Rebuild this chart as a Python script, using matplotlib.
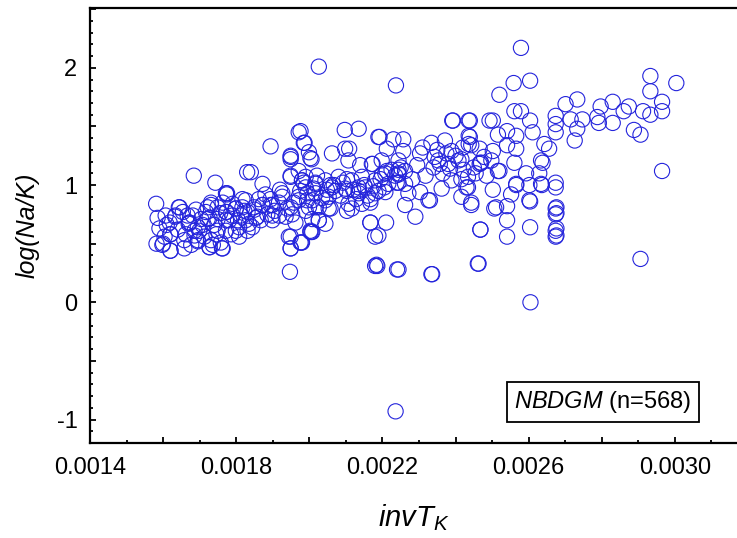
import matplotlib
matplotlib.use("Agg")
import matplotlib.pyplot as plt
from matplotlib.ticker import MultipleLocator, FuncFormatter
import numpy as np

plt.rcParams['font.family'] = ['Liberation Sans', 'DejaVu Sans']
plt.rcParams['mathtext.fontset'] = 'custom'
plt.rcParams['mathtext.rm'] = 'Liberation Sans'
plt.rcParams['mathtext.it'] = 'Liberation Sans:italic'

# inverse temperature (1/K) and log(Na/K)
inv_t = [
    # left cluster
    0.001581, 0.001607, 0.001634, 0.001645, 0.001667, 0.001672, 0.001620, 0.001598,
    0.001620, 0.001658, 0.001677, 0.001695, 0.001686, 0.001699, 0.001722, 0.001731,
    0.001743, 0.001684, 0.001727, 0.001731, 0.001761, 0.001746, 0.001772, 0.001781,
    0.001772, 0.001772, 0.001799, 0.001817, 0.001808, 0.001831, 0.001826, 0.001858,
    0.001840, 0.001872, 0.001872, 0.001894, 0.001899, 0.001926, 0.001949, 0.001949,
    0.001949, 0.001944, 0.001949, 0.001947, 0.001980, 0.001985, 0.002003, 0.002017,
    0.002026, 0.002044, 0.002058, 0.002058, 0.002098, 0.002103, 0.002135, 0.002144,
    0.002167, 0.002171, 0.002167, 0.002180, 0.002180,
    0.001643, 0.001633, 0.001670, 0.001681, 0.001722, 0.001727, 0.001774, 0.001774,
    0.001799, 0.001826, 0.001854, 0.001872, 0.001899, 0.001926, 0.001940, 0.001971,
    0.002008, 0.001980, 0.001949, 0.001949, 0.001949, 0.002003, 0.001987, 0.001971,
    0.001620, 0.001600, 0.001620, 0.001658, 0.001695, 0.001727, 0.001763, 0.001799,
    0.001835, 0.001949, 0.001949, 0.001978, 0.002006,
    0.001654, 0.001672, 0.001695, 0.001704, 0.001717, 0.001731, 0.001749, 0.001749,
    0.001758, 0.001736, 0.001713, 0.001686, 0.001772, 0.001786, 0.001808, 0.001813,
    0.001831, 0.001844, 0.001867, 0.001885, 0.001899, 0.001917, 0.001935, 0.001953,
    0.001962, 0.001990, 0.002008, 0.002017, 0.002003, 0.001917, 0.001894, 0.001849,
    0.001817, 0.001790, 0.001763, 0.001749,
    0.001582, 0.001604, 0.001590, 0.001618, 0.001585, 0.001775, 0.001830, 0.001894,
    0.001610, 0.001640, 0.001662, 0.001690, 0.001708, 0.001740, 0.001756, 0.001790,
    0.001805, 0.001822, 0.001850, 0.001862, 0.001880, 0.001905, 0.001920, 0.001958,
    0.001975, 0.001995, 0.002012, 0.002035, 0.002048, 0.002067, 0.002085, 0.002092,
    0.002120, 0.002128, 0.002150, 0.002160, 0.002175, 0.002195, 0.002205, 0.002225,
    # middle cluster
    0.002026, 0.002237, 0.002097, 0.002135, 0.001976, 0.001985, 0.001999, 0.002006,
    0.002062, 0.002098, 0.002109, 0.002107, 0.002139, 0.002173, 0.002192, 0.002212,
    0.002230, 0.002257, 0.002257, 0.002244, 0.002262, 0.002244, 0.002244, 0.002303,
    0.002334, 0.002371, 0.002375, 0.002389, 0.002343, 0.002357, 0.002391, 0.002436,
    0.002436, 0.002436, 0.002416, 0.002466, 0.002468, 0.002493,
    0.001980, 0.002017, 0.002021, 0.002062, 0.002103, 0.002103, 0.002135, 0.002167,
    0.002199, 0.002208, 0.002239, 0.002244, 0.002262, 0.002290, 0.002303, 0.002330,
    0.002362, 0.002389, 0.002416, 0.002430, 0.002416, 0.002443,
    0.001971, 0.001999, 0.002026, 0.002053, 0.002044, 0.002008, 0.001976, 0.002107,
    0.002116, 0.002189, 0.002189, 0.002167, 0.002210, 0.002186, 0.002244, 0.002334,
    0.002461, 0.002468,
    0.001971, 0.001990, 0.001990, 0.001994, 0.002017, 0.002026, 0.002044, 0.002053,
    0.002071, 0.002080, 0.002116, 0.002135, 0.002144, 0.002153, 0.002180, 0.002180,
    0.002208, 0.002216, 0.002235, 0.002262, 0.002271,
    0.002198, 0.002212, 0.002244, 0.002326, 0.002353, 0.002380, 0.002408, 0.002466,
    0.002498, 0.002520, 0.002511, 0.002393, 0.002189,
    0.002250, 0.002282, 0.002295, 0.002318, 0.002340, 0.002365, 0.002385, 0.002400,
    0.002422, 0.002450, 0.002478, 0.002485, 0.002310, 0.002350, 0.002420, 0.002455,
    # right part
    0.002579, 0.002559, 0.002604, 0.002520, 0.002933, 0.003004, 0.002933, 0.002561,
    0.002579, 0.002439, 0.002502, 0.002604, 0.002611,
    0.002516, 0.002541, 0.002566, 0.002541, 0.002566, 0.002502, 0.002470, 0.002516,
    0.002561, 0.002593, 0.002629, 0.002638, 0.002656, 0.002643,
    0.002439, 0.002443, 0.002434, 0.002434, 0.002443,
    0.002566, 0.002602, 0.002636, 0.002674, 0.002674, 0.002552, 0.002502, 0.002604,
    0.002541, 0.002506, 0.002674, 0.002674, 0.002541, 0.002468, 0.002604, 0.002541,
    0.002674, 0.002674, 0.002463, 0.002906, 0.002965,
    0.002674, 0.002674, 0.002701, 0.002733, 0.002715, 0.002747, 0.002733, 0.002674,
    0.002726, 0.002788, 0.002797, 0.002792, 0.002830, 0.002830, 0.002860, 0.002874,
    0.002888, 0.002906, 0.002913, 0.002933, 0.002965, 0.002965,
    0.002566, 0.002602, 0.002634, 0.002634, 0.002676, 0.002676, 0.002676, 0.002676,
    0.002605, 0.002236, 0.002336, 0.002240, 0.002184,
]
log_na_k = [
    # left cluster
    0.84, 0.74, 0.74, 0.81, 0.74, 0.68, 0.58, 0.49,
    0.44, 0.46, 0.49, 0.52, 0.57, 0.61, 0.71, 0.83,
    1.02, 1.08, 0.47, 0.53, 0.46, 0.58, 0.61, 0.70,
    0.77, 0.93, 0.80, 0.88, 0.64, 0.61, 0.70, 0.73,
    1.11, 1.01, 0.83, 0.83, 0.74, 0.93, 1.24, 1.07,
    0.81, 0.56, 0.46, 0.26, 0.51, 1.02, 0.60, 1.02,
    0.70, 0.87, 1.00, 0.80, 0.97, 0.78, 0.95, 0.84,
    0.88, 1.18, 0.68, 0.56, 0.31,
    0.81, 0.73, 0.67, 0.74, 0.81, 0.72, 0.92, 0.77,
    0.80, 0.87, 0.72, 0.83, 0.83, 0.90, 0.80, 0.90,
    0.87, 1.04, 1.08, 1.25, 1.22, 1.23, 1.36, 1.45,
    0.58, 0.50, 0.44, 0.53, 0.53, 0.47, 0.46, 0.61,
    0.67, 0.56, 0.46, 0.51, 0.60,
    0.77, 0.68, 0.64, 0.71, 0.77, 0.85, 0.71, 0.61,
    0.51, 0.49, 0.56, 0.61, 0.70, 0.58, 0.56, 0.74,
    0.77, 0.64, 0.70, 0.75, 0.70, 0.74, 0.73, 0.75,
    0.68, 0.78, 0.71, 0.81, 0.61, 0.85, 0.88, 0.81,
    0.81, 0.84, 0.85, 0.81,
    0.50, 0.56, 0.63, 0.68, 0.72, 0.93, 1.11, 1.33,
    0.66, 0.62, 0.58, 0.79, 0.66, 0.66, 0.76, 0.74,
    0.70, 0.78, 0.79, 0.88, 0.92, 0.78, 0.96, 0.85,
    0.95, 0.93, 0.97, 0.89, 0.96, 1.00, 0.91, 1.02,
    0.96, 0.88, 1.00, 0.91, 0.99, 1.05, 0.98, 1.13,
    # middle cluster
    2.01, 1.85, 1.47, 1.48, 1.46, 1.36, 1.28, 1.22,
    1.27, 1.31, 1.31, 1.21, 1.17, 1.18, 1.41, 1.31,
    1.39, 1.39, 1.29, 1.21, 1.12, 1.10, 1.02, 1.27,
    1.36, 1.38, 1.27, 1.29, 1.24, 1.18, 1.55, 1.55,
    1.42, 1.35, 1.22, 1.31, 1.19, 1.55,
    1.04, 1.01, 1.08, 0.98, 1.05, 0.95, 0.98, 0.85,
    1.09, 0.94, 1.02, 1.09, 0.83, 0.73, 0.94, 0.87,
    0.97, 1.04, 1.05, 0.98, 0.90, 0.83,
    0.87, 0.81, 0.70, 0.80, 0.67, 0.60, 0.51, 0.84,
    0.80, 0.95, 0.57, 0.68, 0.68, 0.31, 0.28, 0.24,
    0.33, 0.62,
    1.12, 1.07, 0.98, 0.87, 0.93, 0.81, 1.04, 0.90,
    0.95, 1.07, 1.04, 0.93, 1.07, 0.98, 1.04, 0.93,
    1.10, 1.01, 1.08, 1.01, 0.93,
    1.21, 1.12, 1.13, 0.87, 1.21, 1.18, 1.21, 1.18,
    1.21, 1.12, 0.81, 1.55, 1.41,
    1.15, 1.05, 1.17, 1.08, 1.15, 1.10, 1.14, 1.25,
    1.13, 1.15, 1.24, 1.08, 1.32, 1.30, 1.32, 1.10,
    # right part
    2.17, 1.87, 1.89, 1.77, 1.93, 1.87, 1.80, 1.63,
    1.63, 1.55, 1.55, 1.55, 1.45,
    1.43, 1.46, 1.42, 1.34, 1.31, 1.29, 1.19, 1.12,
    1.19, 1.10, 1.10, 1.19, 1.31, 1.35,
    1.41, 1.34, 1.07, 0.98, 0.85,
    1.00, 1.00, 1.00, 1.02, 0.98, 0.92, 0.96, 0.86,
    0.82, 0.80, 0.80, 0.75, 0.70, 0.62, 0.64, 0.56,
    0.61, 0.56, 0.33, 0.37, 1.12,
    1.59, 1.52, 1.69, 1.73, 1.56, 1.56, 1.48, 1.45,
    1.38, 1.58, 1.67, 1.53, 1.71, 1.53, 1.63, 1.67,
    1.47, 1.43, 1.63, 1.60, 1.71, 1.63,
    1.01, 0.87, 1.01, 1.21, 0.81, 0.76, 0.63, 0.57,
    0.00, -0.93, 0.24, 0.28, 0.32,
]

label_name = "NBDGM"
n_samples = 568

fig = plt.figure(figsize=(7.37, 5.38), dpi=100)
ax = fig.add_axes([0.1221, 0.1766, 0.8779, 0.8085])

ax.scatter(inv_t, log_na_k, s=120, facecolors='none', edgecolors='#2424dc',
           linewidths=0.8, zorder=3)

ax.set_xlim(0.0014, 0.00317)
ax.set_ylim(-1.2, 2.51)

ax.xaxis.set_major_locator(MultipleLocator(0.0002))
ax.xaxis.set_minor_locator(MultipleLocator(0.0001))
ax.yaxis.set_major_locator(MultipleLocator(0.5))
ax.yaxis.set_minor_locator(MultipleLocator(0.1))

def xfmt(v, pos):
    k = round(v / 0.0001)
    return f"{v:.4f}" if k % 4 == 2 else ""

def yfmt(v, pos):
    return f"{v:.0f}" if abs(v - round(v)) < 1e-6 else ""

ax.xaxis.set_major_formatter(FuncFormatter(xfmt))
ax.yaxis.set_major_formatter(FuncFormatter(yfmt))

ax.tick_params(which='both', direction='in', top=False, right=False, width=1.3)
ax.tick_params(which='major', length=4.5)
ax.tick_params(which='minor', length=2.5)
ax.tick_params(axis='x', labelsize=17, pad=10)
ax.tick_params(axis='y', labelsize=17, pad=9)

ax.spines['right'].set_visible(False)
for s in ['left', 'bottom', 'top']:
    ax.spines[s].set_linewidth(1.6)

ax.set_xlabel(r"$invT_K$", fontsize=21, labelpad=17)
ax.set_ylabel("log(Na/K)", fontsize=18, style='italic', labelpad=12)

ax.text(0.793, 0.095, r"$\it{" + label_name + r"}$" + f" (n={n_samples})",
        transform=ax.transAxes, ha='center', va='center', fontsize=17,
        bbox=dict(boxstyle='square,pad=0.3', fc='white', ec='black', lw=1.3))

fig.savefig("out.png", dpi=100)
